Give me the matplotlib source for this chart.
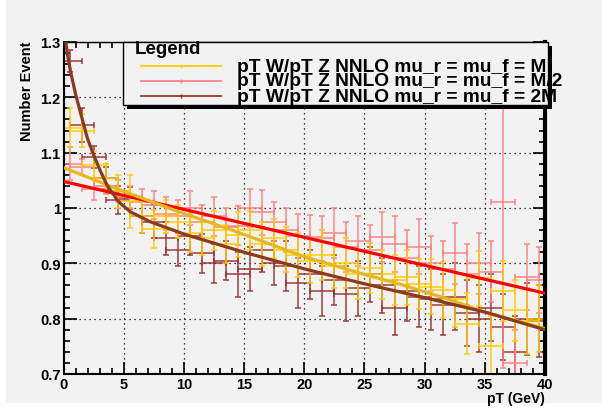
import numpy as np
from matplotlib import pyplot as plt
from matplotlib.patches import Rectangle
from matplotlib.lines import Line2D
from matplotlib.ticker import MultipleLocator

plt.rcParams['font.family'] = ['Liberation Sans', 'DejaVu Sans']
plt.rcParams['font.weight'] = 'bold'

# bin centres (pT, GeV)
pt = np.arange(0.5, 40.0, 1.0)
pt_err = 1.0

# ratio pT W / pT Z, mu_r = mu_f = M
ratio_m = [1.145, 1.140, 1.078, 1.055, 1.030, 1.012, 0.985, 0.962, 0.985, 0.975,
           0.955, 0.945, 0.960, 0.935, 0.952, 0.960, 0.935, 0.945, 0.925, 0.915,
           0.905, 0.915, 0.895, 0.900, 0.880, 0.892, 0.880, 0.870, 0.875, 0.862,
           0.858, 0.852, 0.835, 0.791, 0.873, 0.750, 0.850, 0.815, 0.796, 0.800]
err_m = [0.035, 0.030, 0.025, 0.025, 0.030, 0.048, 0.030, 0.035, 0.030, 0.030,
         0.035, 0.030, 0.035, 0.035, 0.040, 0.035, 0.040, 0.035, 0.040, 0.040,
         0.040, 0.045, 0.040, 0.045, 0.045, 0.045, 0.045, 0.045, 0.050, 0.045,
         0.050, 0.050, 0.050, 0.055, 0.050, 0.055, 0.055, 0.055, 0.060, 0.060]

# mu_r = mu_f = M/2
ratio_m2 = [1.080, 1.074, 1.035, 1.040, 1.030, 1.020, 1.010, 1.005, 0.990, 0.985,
            1.000, 0.975, 0.985, 0.965, 0.968, 1.000, 0.992, 0.975, 0.960, 0.950,
            0.948, 0.945, 0.955, 0.930, 0.940, 0.925, 0.948, 0.935, 0.910, 0.930,
            0.900, 0.890, 0.918, 0.880, 0.900, 0.885, 1.010, 0.720, 0.875, 0.870]
err_m2 = [0.030, 0.015, 0.020, 0.015, 0.020, 0.020, 0.025, 0.025, 0.030, 0.030,
          0.030, 0.030, 0.035, 0.035, 0.035, 0.035, 0.040, 0.035, 0.040, 0.040,
          0.040, 0.040, 0.045, 0.045, 0.045, 0.045, 0.045, 0.050, 0.050, 0.050,
          0.050, 0.050, 0.055, 0.055, 0.055, 0.055, 0.300, 0.060, 0.060, 0.060]

# mu_r = mu_f = 2M
ratio_2m = [1.265, 1.150, 1.092, 1.054, 1.014, 1.018, 0.985, 0.975, 0.945, 0.925,
            0.950, 0.918, 0.900, 0.905, 0.880, 0.890, 0.925, 0.900, 0.895, 0.865,
            0.880, 0.850, 0.870, 0.845, 0.855, 0.880, 0.860, 0.820, 0.850, 0.840,
            0.835, 0.825, 0.840, 0.810, 0.800, 0.820, 0.785, 0.740, 0.800, 0.795]
err_2m = [0.020, 0.030, 0.020, 0.020, 0.025, 0.020, 0.030, 0.030, 0.030, 0.030,
          0.035, 0.035, 0.035, 0.035, 0.040, 0.040, 0.040, 0.040, 0.045, 0.045,
          0.045, 0.045, 0.045, 0.050, 0.050, 0.050, 0.050, 0.050, 0.055, 0.055,
          0.055, 0.055, 0.060, 0.060, 0.060, 0.060, 0.060, 0.065, 0.065, 0.065]

# fit curves
fit_m_x = [0, 5, 7, 10, 14, 20, 25, 28, 32, 35, 40]
fit_m_y = [1.073, 1.030, 1.014, 0.990, 0.960, 0.912, 0.880, 0.862, 0.835, 0.812, 0.782]
fit_m2_x = [0, 40]
fit_m2_y = [1.048, 0.846]
fit_2m_x = [0.15, 0.3, 0.6, 1.0, 1.55, 2.0, 2.52, 3.0, 3.62, 4.59, 5.56, 7.22,
            10, 15, 20, 25, 30, 35, 40]
fit_2m_y = [1.31, 1.281, 1.245, 1.206, 1.161, 1.125, 1.095, 1.070, 1.041, 1.011,
            0.993, 0.975, 0.953, 0.920, 0.890, 0.863, 0.838, 0.812, 0.780]

labels = ["pT W/pT Z NNLO mu_r = mu_f = M",
          "pT W/pT Z NNLO mu_r = mu_f = M/2",
          "pT W/pT Z NNLO mu_r = mu_f = 2M"]
x_ticks = [0, 5, 10, 15, 20, 25, 30, 35, 40]
y_ticks = [0.7, 0.8, 0.9, 1.0, 1.1, 1.2, 1.3]
y_ticklabels = ['0.7', '0.8', '0.9', '1', '1.1', '1.2', '1.3']
pt_colors = ['#ffcc00', '#ff8080', '#993333']
fit_colors = ['#e6b81e', '#ff0000', '#8b3a1e']

bg = '#f2f2f2'
fig = plt.figure(figsize=(6.02, 4.10), dpi=100, facecolor='white')
fig.patches.append(Rectangle((6 / 602, 6 / 410), 1, 1, transform=fig.transFigure,
                             facecolor=bg, edgecolor='none', zorder=-10))
ax = fig.add_axes([63.5 / 602, 35 / 410, 481.5 / 602, 332 / 410])
ax.set_facecolor(bg)

for y, e, c in zip([ratio_2m, ratio_m2, ratio_m], [err_2m, err_m2, err_m],
                   [pt_colors[2], pt_colors[1], pt_colors[0]]):
    ax.errorbar(pt, y, yerr=e, xerr=pt_err, fmt='none', ecolor=c, elinewidth=1.3,
                capsize=2, capthick=1.3, alpha=0.8, zorder=2)

ax.plot(fit_m2_x, fit_m2_y, color=fit_colors[1], lw=2.3, zorder=3)
ax.plot(fit_m_x, fit_m_y, color=fit_colors[0], lw=2.3, zorder=3)
ax.plot(fit_2m_x, fit_2m_y, color=fit_colors[2], lw=2.3, zorder=3)

ax.set_xlim(0, 40)
ax.set_ylim(0.7, 1.3)
ax.set_xticks(x_ticks)
ax.set_xticklabels([str(t) for t in x_ticks], fontweight='bold')
ax.set_yticks(y_ticks)
ax.set_yticklabels(y_ticklabels, fontweight='bold')
ax.xaxis.set_minor_locator(MultipleLocator(1))
ax.yaxis.set_minor_locator(MultipleLocator(0.02))
ax.tick_params(which='both', direction='in', top=True, right=True, width=1.2,
               labelsize=10.5, pad=2)
ax.tick_params(which='major', length=9)
ax.tick_params(which='minor', length=4.5)
ax.grid(True, which='major', color='black', linestyle=(0, (1, 3)), lw=0.9)
for s in ['left', 'bottom']:
    ax.spines[s].set_linewidth(1.5)
ax.spines['right'].set_linewidth(3)
ax.spines['top'].set_linewidth(1.0)

fig.text(545 / 602, 1 - 399 / 410, "pT (GeV)", ha='right', va='center',
         fontsize=10, fontweight='bold')
fig.text(27 / 602, 1 - 42 / 410, "Number Event", ha='center', va='top',
         rotation=90, fontsize=10.5, fontweight='bold')

# legend box (drawn by hand like the ROOT TLegend)
lx0, lx1, ly0, ly1 = 123 / 602, 548 / 602, 1 - 106 / 410, 1 - 43 / 410
fig.patches.append(Rectangle((lx0 + 4 / 602, ly0 - 4 / 410), lx1 - lx0, ly1 - ly0,
                             transform=fig.transFigure, facecolor='black',
                             edgecolor='none', zorder=5))
fig.patches.append(Rectangle((lx0, ly0), lx1 - lx0, ly1 - ly0,
                             transform=fig.transFigure, facecolor=bg,
                             edgecolor='black', lw=1.0, zorder=6))
fig.text(135 / 602, 1 - 50 / 410, "Legend", ha='left', va='center',
         fontsize=13.5, fontweight='bold', zorder=7)
for i, (lab, c) in enumerate(zip(labels, pt_colors)):
    yy = 1 - (67 + 15 * i) / 410
    fig.lines.append(Line2D([141 / 602, 221 / 602], [yy, yy], color=c, lw=1.3,
                            transform=fig.transFigure, zorder=7))
    fig.lines.append(Line2D([181 / 602], [yy], marker='|', ms=3, color=c,
                            transform=fig.transFigure, zorder=7))
    fig.text(237 / 602, yy, lab, ha='left', va='center', fontsize=13.8,
             fontweight='bold', zorder=8)

fig.savefig("out.png", dpi=100, facecolor='white')
